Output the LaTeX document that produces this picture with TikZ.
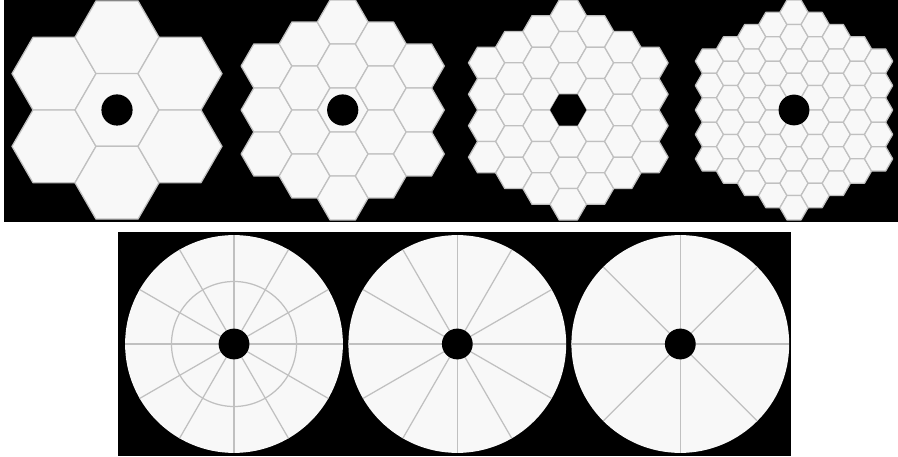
\documentclass[tikz,border=0pt]{standalone}
\usepackage{xcolor}
\usepackage{tikz}
\definecolor{segcol}{RGB}{248,248,248}
\definecolor{gapcol}{RGB}{192,192,192}
% one segmented hexagonal mirror: centre x, centre y, side of a segment, rings
\newcommand\hexmirror[4]{%
  \foreach \qq in {-#4,...,#4}{%
    \foreach \rr in {-#4,...,#4}{%
      \pgfmathtruncatemacro\inside{abs(\qq+\rr)<=#4}%
      \ifnum\inside=1
        \draw[seg,shift={(#1+1.5*#3*\qq,#2+0.866*#3*(2*\rr+\qq))}]
          (0:#3) -- (60:#3) -- (120:#3) -- (180:#3) -- (240:#3) -- (300:#3) -- cycle;
      \fi
    }%
  }%
}
% one round mirror cut by spokes: centre x, centre y, spoke angles
\newcommand\discmirror[3]{%
  \fill[segcol] (#1,#2) circle (108.9);
  \foreach \ang in {#3}
    \draw[gap] (#1,#2) -- ++(\ang:108.9);
}
\begin{document}
\begin{tikzpicture}[
  x=1pt, y=-1pt,
  seg/.style={draw=gapcol, fill=segcol, line width=1.25pt, line join=round},
  gap/.style={draw=gapcol, line width=1.25pt},
  hole/.style={fill=black},
]
\useasboundingbox (0,0) rectangle (898,457);
\fill[black] (4,0) rectangle (898,222);
\fill[black] (118,232) rectangle (791,456);

\hexmirror{117}{110}{42}{1}
\hexmirror{342.7}{110}{25.4}{2}
\hexmirror{568.3}{110}{18.15}{3}
\hexmirror{794}{110}{14.1}{4}
\fill[hole] (117,110) circle (15.6);
\fill[hole] (342.7,110) circle (15.6);
\fill[hole] (568.3,110) ++(0:18.15) -- ++(120:18.15) -- ++(180:18.15) -- ++(240:18.15) -- ++(300:18.15) -- ++(0:18.15) -- cycle;
\fill[hole] (794,110) circle (15.4);

\discmirror{234}{344}{0,30,...,330}
\draw[gap] (234,344) circle (62.5);
\fill[hole] (234,344) circle (15.4);
\discmirror{457.3}{344}{0,30,...,330}
\fill[hole] (457.3,344) circle (15.4);
\discmirror{680.3}{344}{0,45,...,315}
\fill[hole] (680.3,344) circle (15.4);
\end{tikzpicture}
\end{document}
